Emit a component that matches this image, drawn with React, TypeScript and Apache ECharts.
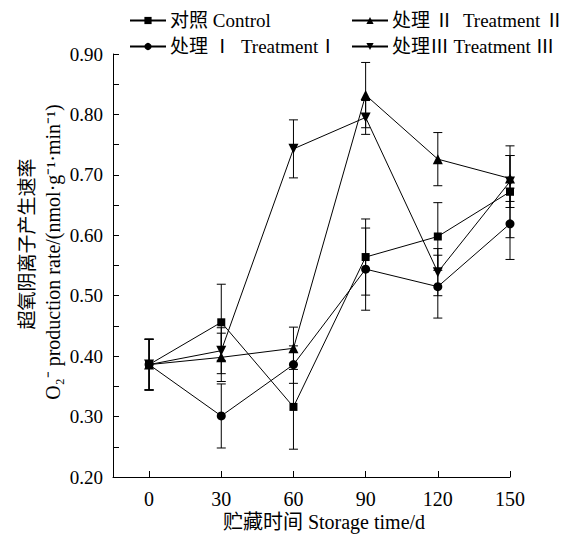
import React, { useEffect, useRef } from "react";
import * as echarts from "echarts";

const days = [0, 30, 60, 90, 120, 150];
const xTicks = [0, 30, 60, 90, 120, 150];

const controlName = "对照 Control";
const t1Name = "处理 Ⅰ  TreatmentⅠ";
const t2Name = "处理 Ⅱ  Treatment Ⅱ";
const t3Name = "处理Ⅲ Treatment Ⅲ";

const controlVals = [0.386, 0.456, 0.316, 0.564, 0.598, 0.672];
const controlErr = [0.042, 0.063, 0.07, 0.063, 0.056, 0.076];
const t1Vals = [0.386, 0.301, 0.386, 0.544, 0.515, 0.619];
const t1Err = [0.042, 0.053, 0.031, 0.068, 0.052, 0.059];
const t2Vals = [0.386, 0.398, 0.413, 0.832, 0.726, 0.694];
const t2Err = [0.042, 0.04, 0.035, 0.054, 0.044, 0.038];
const t3Vals = [0.386, 0.409, 0.743, 0.795, 0.539, 0.689];
const t3Err = [0.042, 0.038, 0.048, 0.028, 0.039, 0.043];

const FONT = "'Liberation Serif', 'Noto Sans CJK SC', serif";

function pts(vals: number[]) {
  return days.map((d, i) => [d, vals[i]]);
}
function errData(vals: number[], err: number[]) {
  return days.map((d, i) => [d, vals[i] - err[i], vals[i] + err[i]]);
}

export default function App() {
  const ref = useRef<HTMLDivElement>(null);
  useEffect(() => {
    document.body.style.margin = "0";
    const chart = echarts.init(ref.current!, null, { renderer: "svg" });
    const errSeries = (vals: number[], err: number[]) => ({
      type: "custom",
      silent: true,
      z: 1,
      data: errData(vals, err),
      encode: { x: 0, y: [1, 2] },
      renderItem: (params: any, api: any) => {
        const x = api.value(0);
        const lo = api.coord([x, api.value(1)]);
        const hi = api.coord([x, api.value(2)]);
        const w = 4.5;
        const st = { stroke: "#000", lineWidth: 1 };
        return {
          type: "group",
          children: [
            { type: "line", shape: { x1: lo[0], y1: lo[1], x2: hi[0], y2: hi[1] }, style: st },
            { type: "line", shape: { x1: lo[0] - w, y1: lo[1], x2: lo[0] + w, y2: lo[1] }, style: st },
            { type: "line", shape: { x1: hi[0] - w, y1: hi[1], x2: hi[0] + w, y2: hi[1] }, style: st },
          ],
        };
      },
    });
    const lineSeries = (name: string, vals: number[], symbol: string, size: number, rotate = 0) => ({
      type: "line",
      name,
      data: pts(vals),
      symbol,
      symbolSize: size,
      symbolRotate: rotate,
      showSymbol: true,
      z: 3,
      lineStyle: { color: "#000", width: 1 },
      itemStyle: { color: "#000" },
    });
    const legendItem = (name: string, left: number, top: number) => ({
      data: [name],
      left,
      top,
      itemWidth: 36,
      itemHeight: 9,
      itemGap: 0,
      textStyle: { fontFamily: FONT, fontSize: 19, color: "#000", padding: [0, 0, 0, -1] },
      selectedMode: false,
    });
    chart.setOption({
      animation: false,
      backgroundColor: "#fff",
      grid: { left: 113, right: 59, top: 54, bottom: 61 },
      legend: [
        legendItem(controlName, 124, 6),
        legendItem(t2Name, 346, 6),
        legendItem(t1Name, 124, 32),
        legendItem(t3Name, 346, 32),
      ],
      xAxis: {
        type: "value",
        min: -15,
        max: 150,
        splitLine: { show: false },
        axisLine: { show: true, onZero: false, lineStyle: { color: "#000", width: 1 } },
        axisTick: { show: true, inside: true, length: 6, customValues: xTicks, lineStyle: { color: "#000" } },
        axisLabel: { customValues: xTicks, color: "#000", fontFamily: FONT, fontSize: 20, margin: 12 },
      },
      yAxis: {
        type: "value",
        min: 0.2,
        max: 0.9,
        interval: 0.1,
        splitLine: { show: false },
        axisLine: { show: true, onZero: false, lineStyle: { color: "#000", width: 1 } },
        axisTick: { show: true, inside: true, length: 6, lineStyle: { color: "#000" } },
        minorTick: { show: true, splitNumber: 2, length: 6, lineStyle: { color: "#000" } },
        axisLabel: {
          color: "#000",
          fontFamily: FONT,
          fontSize: 19,
          margin: 10,
          formatter: (v: number) => v.toFixed(2),
        },
      },
      graphic: [
        {
          type: "text",
          x: 27,
          y: 244,
          rotation: Math.PI / 2,
          style: {
            text: "超氧阴离子产生速率",
            fontFamily: FONT,
            fontSize: 19,
            fill: "#000",
            align: "center",
            verticalAlign: "middle",
          },
        },
        {
          type: "text",
          x: 53,
          y: 252,
          rotation: Math.PI / 2,
          style: {
            text: "O₂⁻ production rate/(nmol·g⁻¹·min⁻¹)",
            fontFamily: FONT,
            fontSize: 20,
            fill: "#000",
            align: "center",
            verticalAlign: "middle",
          },
        },
        {
          type: "text",
          x: 324,
          y: 522,
          style: {
            text: "贮藏时间 Storage time/d",
            fontFamily: FONT,
            fontSize: 20,
            fill: "#000",
            align: "center",
            verticalAlign: "middle",
          },
        },
      ],
      series: [
        errSeries(controlVals, controlErr),
        errSeries(t1Vals, t1Err),
        errSeries(t2Vals, t2Err),
        errSeries(t3Vals, t3Err),
        lineSeries(controlName, controlVals, "rect", 8),
        lineSeries(t1Name, t1Vals, "circle", 9),
        lineSeries(t2Name, t2Vals, "triangle", 10),
        lineSeries(t3Name, t3Vals, "triangle", 10, 180),
      ],
    });
    return () => chart.dispose();
  }, []);
  return <div ref={ref} style={{ width: 569, height: 538 }} />;
}
